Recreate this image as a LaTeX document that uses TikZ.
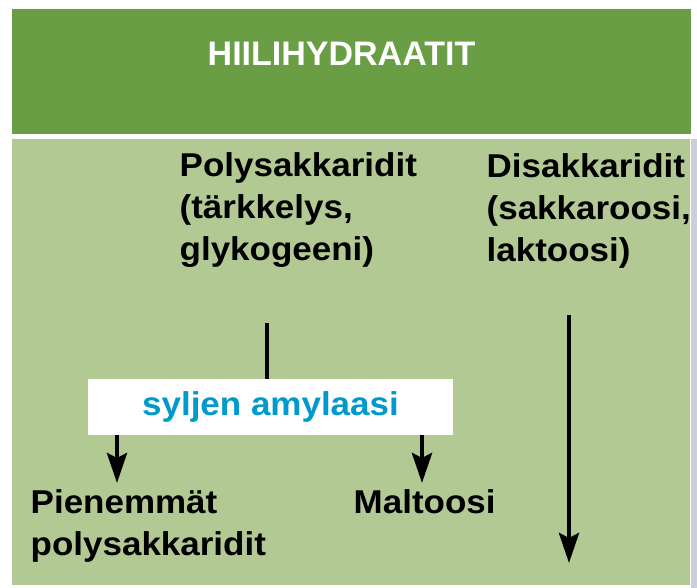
\documentclass[tikz,border=0pt]{standalone}
\usepackage{fontspec}
\setmainfont{Liberation Sans}[FakeStretch=1.06]
\newfontfamily\headfont{Liberation Sans}
\usetikzlibrary{arrows.meta}

\definecolor{headgreen}{RGB}{106,158,69}
\definecolor{panelgreen}{RGB}{179,201,148}
\definecolor{enzblue}{RGB}{0,153,204}
\definecolor{edgegrey}{RGB}{204,208,214}

\begin{document}
\begin{tikzpicture}[x=1pt,y=-1pt,
  txtlbl/.style={font=\fontsize{33}{42}\selectfont\bfseries, align=left,
                 anchor=north west, inner sep=0pt},
  flowarrow/.style={line width=4.5pt,
                    -{Stealth[length=30pt,width=20pt,inset=5pt]}},
  stemline/.style={line width=4.5pt}]

  \useasboundingbox (0,0) rectangle (697,588);
  \fill[white] (0,0) rectangle (697,588);

  % panels
  \fill[edgegrey] (691,139) rectangle (697,588);
  \fill[headgreen] (12,9) rectangle (691,134);
  \fill[panelgreen] (12,139) rectangle (690,585);

  % heading
  \node[font=\headfont\fontsize{34}{40}\selectfont\bfseries, text=white,
        anchor=base, inner sep=0pt] (title) at (341.5,66) {HIILIHYDRAATIT};

  % substrates
  \node[txtlbl] (poly) at (179.5,152.4) {Polysakkaridit\\(tärkkelys,\\glykogeeni)};
  \node[txtlbl] (disak) at (486.5,153.4) {Disakkaridit\\(sakkaroosi,\\laktoosi)};

  % enzyme
  \node[fill=white, minimum width=365pt, minimum height=56pt, inner sep=0pt,
        text=enzblue, font=\fontsize{33}{40}\selectfont\bfseries]
        (enz) at (270.5,407) {syljen amylaasi};

  % products
  \node[txtlbl] (smaller) at (30.5,489.4) {Pienemmät\\polysakkaridit};
  \node[txtlbl] (maltose) at (353.5,489.4) {Maltoosi};

  % connectors
  \coordinate (polyfoot) at (267,323);
  \draw[stemline] (polyfoot) -- (polyfoot |- enz.north);

  \coordinate (leftend) at (117,483);
  \coordinate (rightend) at (422,483);
  \draw[flowarrow] (enz.south -| leftend) -- (leftend);
  \draw[flowarrow] (enz.south -| rightend) -- (rightend);

  \coordinate (distop) at (569,315);
  \coordinate (disend) at (569,563);
  \draw[flowarrow] (distop) -- (disend);
\end{tikzpicture}
\end{document}
